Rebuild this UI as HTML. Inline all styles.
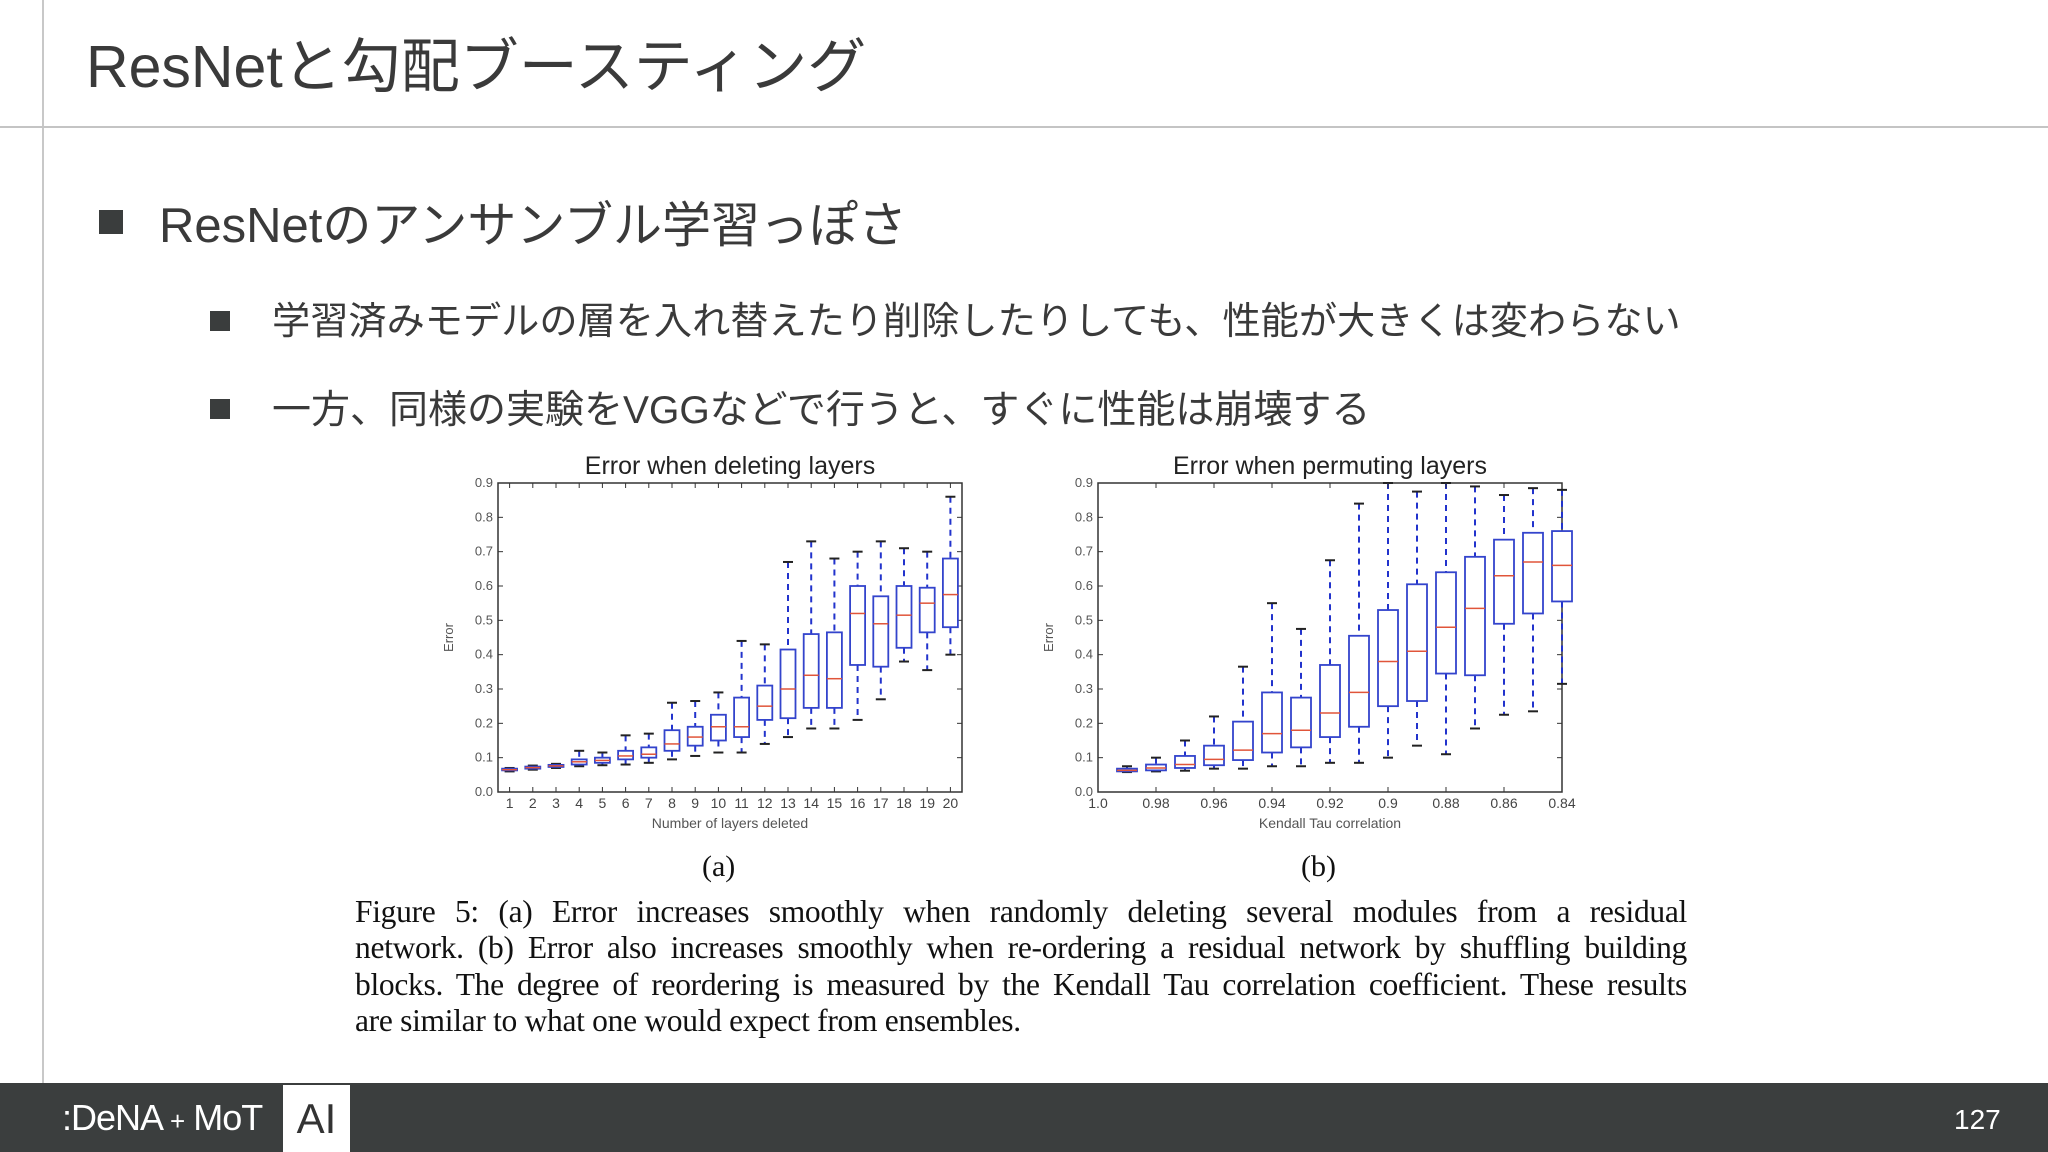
<!DOCTYPE html>
<html><head><meta charset="utf-8">
<style>
html,body{margin:0;padding:0}
body{width:2048px;height:1152px;position:relative;overflow:hidden;background:#fff;font-family:"Liberation Sans","Noto Sans CJK JP",sans-serif;color:#3a3a3a}
.abs{position:absolute;white-space:nowrap}
.cap{position:absolute;left:355px;width:1332px;font-family:"Liberation Serif",serif;font-size:31.5px;color:#111;text-align:justify;text-align-last:justify;white-space:nowrap;line-height:36px;letter-spacing:-0.3px}
</style></head><body>
<div class="abs" style="left:42px;top:0;width:2px;height:1083px;background:#c8c8c8"></div>
<div class="abs" style="left:0;top:126px;width:2048px;height:2px;background:#c4c4c4"></div>
<div class="abs" style="left:86px;top:28px;font-size:59px;line-height:78px;color:#3a3a3a">ResNetと勾配ブースティング</div>
<div class="abs" style="left:99px;top:210px;width:24px;height:24px;background:#3a3d3d"></div>
<div class="abs" style="left:159px;top:194px;font-size:49px;line-height:64px">ResNetのアンサンブル学習っぽさ</div>
<div class="abs" style="left:210px;top:311px;width:20px;height:20px;background:#3a3d3d"></div>
<div class="abs" style="left:272px;top:298px;font-size:38.2px;line-height:48px">学習済みモデルの層を入れ替えたり削除したりしても、性能が大きくは変わらない</div>
<div class="abs" style="left:210px;top:399px;width:20px;height:20px;background:#3a3d3d"></div>
<div class="abs" style="left:272px;top:387px;font-size:39px;line-height:48px">一方、同様の実験をVGGなどで行うと、すぐに性能は崩壊する</div>

<svg id="fig" class="abs" style="left:0;top:0" width="2048" height="1152"></svg>

<div class="abs" style="left:702px;top:850px;font-family:'Liberation Serif',serif;font-size:30px;color:#111">(a)</div>
<div class="abs" style="left:1301px;top:850px;font-family:'Liberation Serif',serif;font-size:30px;color:#111">(b)</div>
<div>
<div class="cap" style="top:894px">Figure 5: (a) Error increases smoothly when randomly deleting several modules from a residual</div>
<div class="cap" style="top:930px">network. (b) Error also increases smoothly when re-ordering a residual network by shuffling building</div>
<div class="cap" style="top:967px">blocks. The degree of reordering is measured by the Kendall Tau correlation coefficient. These results</div>
<div class="cap" style="top:1003px;text-align:left;text-align-last:left">are similar to what one would expect from ensembles.</div>
</div>

<div class="abs" style="left:0;top:1083px;width:2048px;height:69px;background:#3b3e3e"></div>
<div class="abs" style="left:62px;top:1094px;font-size:36px;line-height:48px;color:#fff;letter-spacing:-1px">:DeNA <span style="font-size:26px">+</span> MoT</div>
<div class="abs" style="left:283px;top:1085px;width:67px;height:67px;background:#fff;color:#333;font-size:42px;line-height:67px;text-align:center">AI</div>
<div class="abs" style="left:1954px;top:1103px;font-size:28px;line-height:34px;color:#fff">127</div>

<script>
// Chart (a): deleting layers
const catsA = [1,2,3,4,5,6,7,8,9,10,11,12,13,14,15,16,17,18,19,20];
const q1A  = [.063,.068,.073,.080,.085,.095,.100,.120,.135,.150,.160,.210,.215,.245,.245,.370,.365,.420,.465,.480];
const medA = [.065,.071,.076,.088,.092,.105,.110,.140,.160,.190,.190,.250,.300,.340,.330,.520,.490,.515,.550,.575];
const q3A  = [.068,.074,.079,.095,.100,.120,.130,.180,.190,.225,.275,.310,.415,.460,.465,.600,.570,.600,.595,.680];
const loA  = [.060,.065,.070,.075,.078,.080,.085,.095,.105,.115,.115,.140,.160,.185,.185,.210,.270,.380,.355,.400];
const hiA  = [.070,.077,.082,.120,.115,.165,.170,.260,.265,.290,.440,.430,.670,.730,.680,.700,.730,.710,.700,.860];
// Chart (b): permuting layers
const catsB = [0.99,0.98,0.97,0.96,0.95,0.94,0.93,0.92,0.91,0.90,0.89,0.88,0.87,0.86,0.85,0.84];
const q1B  = [.060,.063,.070,.078,.093,.115,.130,.160,.190,.250,.265,.345,.340,.490,.520,.555];
const medB = [.063,.070,.080,.095,.122,.170,.180,.230,.290,.380,.410,.480,.535,.630,.670,.660];
const q3B  = [.068,.080,.105,.135,.205,.290,.275,.370,.455,.530,.605,.640,.685,.735,.755,.760];
const loB  = [.058,.060,.062,.068,.068,.075,.075,.085,.085,.100,.135,.110,.185,.225,.235,.315];
const hiB  = [.075,.100,.150,.220,.365,.550,.475,.675,.840,.900,.875,.900,.890,.865,.885,.880];
const yTicks = [0,0.1,0.2,0.3,0.4,0.5,0.6,0.7,0.8,0.9];
const yTickLabels = ["0.0","0.1","0.2","0.3","0.4","0.5","0.6","0.7","0.8","0.9"];
const xTicksB = [1.0,0.98,0.96,0.94,0.92,0.90,0.88,0.86,0.84];
const xTickLabelsB = ["1.0","0.98","0.96","0.94","0.92","0.9","0.88","0.86","0.84"];

const NS='http://www.w3.org/2000/svg';
const svg=document.getElementById('fig');
function mk(tag,attrs,parent){const e=document.createElementNS(NS,tag);for(const k in attrs)e.setAttribute(k,attrs[k]);(parent||svg).appendChild(e);return e;}
const Y0=792,Y1=483;
function yS(v){return Y0-(v/0.9)*(Y0-Y1);}

function drawChart(o){
  const g=mk('g',{});
  
  
  const r=mk('rect',{x:o.x0,y:Y1,width:o.x1-o.x0,height:Y0-Y1,fill:'none',stroke:'#333','stroke-width':1.5},g);
  
  
  yTicks.forEach((v,i)=>{
    const y=yS(v);
    mk('line',{x1:o.x0,x2:o.x0+5,y1:y,y2:y,stroke:'#333'},g);
    mk('line',{x1:o.x1,x2:o.x1-5,y1:y,y2:y,stroke:'#333'},g);
    const t=mk('text',{x:o.x0-5,y:y+4,'font-size':13,'text-anchor':'end',fill:'#555','font-family':'Liberation Sans'},g);
    t.textContent=yTickLabels[i];
    
    
  });
  const tt=mk('text',{x:(o.x0+o.x1)/2,y:474,'font-size':25,'text-anchor':'middle',fill:'#222','font-family':'Liberation Sans'},g);
  tt.textContent=o.title;
  
  
  const yl=mk('text',{x:0,y:0,'font-size':13,'text-anchor':'middle',fill:'#555','font-family':'Liberation Sans',transform:`translate(${o.x0-45},${(Y0+Y1)/2}) rotate(-90)`},g);
  yl.textContent='Error';
  
  
  const xl=mk('text',{x:(o.x0+o.x1)/2,y:828,'font-size':14,'text-anchor':'middle',fill:'#555','font-family':'Liberation Sans'},g);
  xl.textContent=o.xlabel;
  
  
  o.cats.forEach((c,i)=>{
    const cx=o.xS(c), w=o.bw;
    const bg=mk('g',{},g);
    
    
    mk('line',{x1:cx,x2:cx,y1:yS(o.hi[i]),y2:yS(o.q3[i]),stroke:'#2233cc','stroke-width':2,'stroke-dasharray':'6,5'},bg);
    mk('line',{x1:cx,x2:cx,y1:yS(o.q1[i]),y2:yS(o.lo[i]),stroke:'#2233cc','stroke-width':2,'stroke-dasharray':'6,5'},bg);
    mk('line',{x1:cx-5,x2:cx+5,y1:yS(o.hi[i]),y2:yS(o.hi[i]),stroke:'#222','stroke-width':2},bg);
    mk('line',{x1:cx-5,x2:cx+5,y1:yS(o.lo[i]),y2:yS(o.lo[i]),stroke:'#222','stroke-width':2},bg);
    mk('rect',{x:cx-w/2,y:yS(o.q3[i]),width:w,height:Math.max(1,yS(o.q1[i])-yS(o.q3[i])),fill:'#fff',stroke:'#3344cc','stroke-width':1.8},bg);
    mk('line',{x1:cx-w/2,x2:cx+w/2,y1:yS(o.med[i]),y2:yS(o.med[i]),stroke:'#e0553a','stroke-width':1.5},bg);
  });
  o.xticks.forEach((v,i)=>{
    const x=o.xS(v);
    mk('line',{x1:x,x2:x,y1:Y0,y2:Y0-5,stroke:'#333'},g);
    mk('line',{x1:x,x2:x,y1:Y1,y2:Y1+5,stroke:'#333'},g);
    const t=mk('text',{x:x,y:808,'font-size':14,'text-anchor':'middle',fill:'#444','font-family':'Liberation Sans'},g);
    t.textContent=o.xlabels[i];
    
    
  });
}
const axA0=498,axA1=962;
drawChart({name:'chart-deleting-layers',x0:axA0,x1:axA1,title:'Error when deleting layers',xlabel:'Number of layers deleted',
  cats:catsA,q1:q1A,med:medA,q3:q3A,lo:loA,hi:hiA,bw:15,
  xS:c=>axA0+(c-0.5)*(axA1-axA0)/20,xticks:catsA,xlabels:catsA.map(String)});
const axB0=1098,axB1=1562;
drawChart({name:'chart-permuting-layers',x0:axB0,x1:axB1,title:'Error when permuting layers',xlabel:'Kendall Tau correlation',
  cats:catsB,q1:q1B,med:medB,q3:q3B,lo:loB,hi:hiB,bw:20,
  xS:c=>axB0+(1.0-c)/0.16*(axB1-axB0),xticks:xTicksB,xlabels:xTickLabelsB});
</script>
</body></html>
